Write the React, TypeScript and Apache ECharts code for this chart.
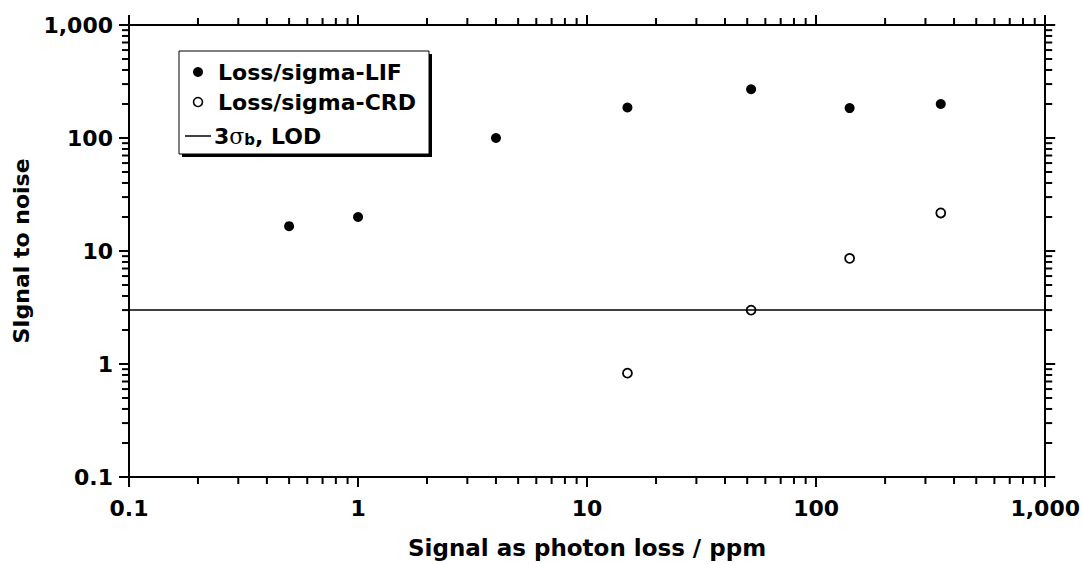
import React, { useEffect, useRef } from "react";
import * as echarts from "echarts";

// ---- data ----
const lifX = [0.5, 1, 4, 15, 52, 140, 350];
const lifY = [16.6, 20, 100, 186, 270, 184, 200];
const crdX = [15, 52, 140, 350];
const crdY = [0.83, 3.0, 8.6, 21.7];
const lodX = [0.1, 1000];
const lodY = 3;

const xAxisRange = [0.1, 1000];
const yAxisRange = [0.1, 1000];
const decades = [0.1, 1, 10, 100];
const minorMultipliers = [2, 3, 4, 5, 6, 7, 8, 9];

const legendLabels = ["Loss/sigma-LIF", "Loss/sigma-CRD"];
const xTitle = "Signal as photon loss / ppm";
const yTitle = "SIgnal to noise";

const FONT = "DejaVu Sans";

const minorValues: number[] = [];
decades.forEach((d) => minorMultipliers.forEach((m) => minorValues.push(Number((d * m).toPrecision(6)))));

const fmt = (v: number) => Number(v.toPrecision(6)).toLocaleString("en-US");

export default function App() {
  const ref = useRef<HTMLDivElement>(null);
  useEffect(() => {
    if (!ref.current) return;
    const chart = echarts.init(ref.current, undefined, { renderer: "svg" });
    const axisCommon = {
      type: "log" as const,
      logBase: 10,
      axisLine: { show: true, lineStyle: { color: "#000", width: 2 } },
      axisTick: { show: true, inside: false, length: 10, lineStyle: { color: "#000", width: 2 } },
      splitLine: { show: false },
      minorTick: { show: false },
    };
    const tickStyle = { stroke: "#000", lineWidth: 2 };
    chart.setOption({
      animation: false,
      backgroundColor: "#fff",
      grid: { left: 129, top: 25, right: 36, bottom: 86, containLabel: false },
      xAxis: [
        {
          ...axisCommon,
          position: "bottom",
          min: xAxisRange[0],
          max: xAxisRange[1],
          axisLabel: {
            color: "#000",
            fontFamily: FONT,
            fontWeight: "bold",
            fontSize: 22,
            margin: 20,
            formatter: (v: number) => fmt(v),
          },
          name: xTitle,
          nameLocation: "middle",
          nameGap: 59,
          nameTextStyle: { color: "#000", fontFamily: FONT, fontWeight: "bold", fontSize: 23 },
        },
        {
          ...axisCommon,
          position: "top",
          min: xAxisRange[0],
          max: xAxisRange[1],
          axisLabel: { show: false },
        },
      ],
      yAxis: [
        {
          ...axisCommon,
          position: "left",
          min: yAxisRange[0],
          max: yAxisRange[1],
          axisLabel: {
            color: "#000",
            fontFamily: FONT,
            fontWeight: "bold",
            fontSize: 22,
            margin: 16,
            formatter: (v: number) => fmt(v),
          },
          name: yTitle,
          nameLocation: "middle",
          nameGap: 95,
          nameTextStyle: { color: "#000", fontFamily: FONT, fontWeight: "bold", fontSize: 22 },
        },
        {
          ...axisCommon,
          position: "right",
          min: yAxisRange[0],
          max: yAxisRange[1],
          axisLabel: { show: false },
        },
      ],
      series: [
        {
          type: "line",
          name: "3σb, LOD",
          data: lodX.map((x) => [x, lodY]),
          symbol: "none",
          lineStyle: { color: "#000", width: 1.5 },
          silent: true,
        },
        {
          type: "scatter",
          name: legendLabels[0],
          data: lifX.map((x, i) => [x, lifY[i]]),
          symbol: "circle",
          symbolSize: 10,
          itemStyle: { color: "#000", opacity: 1 },
          emphasis: { disabled: true },
        },
        {
          type: "scatter",
          name: legendLabels[1],
          data: crdX.map((x, i) => [x, crdY[i]]),
          symbol: "circle",
          symbolSize: 9,
          itemStyle: { color: "#fff", borderColor: "#000", borderWidth: 1.8, opacity: 1 },
          emphasis: { disabled: true },
        },
        {
          type: "custom",
          clip: false,
          silent: true,
          data: minorValues.map((v) => [v, 1]),
          renderItem: (params: any, api: any) => {
            const v = api.value(0);
            const b = api.coord([v, yAxisRange[0]]);
            const t = api.coord([v, yAxisRange[1]]);
            return {
              type: "group",
              children: [
                { type: "line", shape: { x1: b[0], y1: b[1], x2: b[0], y2: b[1] + 7 }, style: tickStyle },
                { type: "line", shape: { x1: t[0], y1: t[1], x2: t[0], y2: t[1] - 7 }, style: tickStyle },
              ],
            };
          },
        },
        {
          type: "custom",
          clip: false,
          silent: true,
          data: minorValues.map((v) => [1, v]),
          renderItem: (params: any, api: any) => {
            const v = api.value(1);
            const l = api.coord([xAxisRange[0], v]);
            const r = api.coord([xAxisRange[1], v]);
            return {
              type: "group",
              children: [
                { type: "line", shape: { x1: l[0], y1: l[1], x2: l[0] - 7, y2: l[1] }, style: tickStyle },
                { type: "line", shape: { x1: r[0], y1: r[1], x2: r[0] + 7, y2: r[1] }, style: tickStyle },
              ],
            };
          },
        },
      ],
      graphic: [
        { type: "rect", shape: { x: 182, y: 54, width: 250, height: 103 }, style: { fill: "#000" }, z: 100 },
        { type: "rect", shape: { x: 179, y: 51, width: 250, height: 103 }, style: { fill: "#fff", stroke: "#000", lineWidth: 1 }, z: 101 },
        { type: "circle", shape: { cx: 198, cy: 72, r: 5 }, style: { fill: "#000" }, z: 102 },
        {
          type: "text", x: 218, y: 72, z: 102,
          style: { text: legendLabels[0], fill: "#000", font: `bold 22px '${FONT}'`, verticalAlign: "middle" },
        },
        { type: "circle", shape: { cx: 198, cy: 102, r: 4.5 }, style: { fill: "#fff", stroke: "#000", lineWidth: 1.6 }, z: 102 },
        {
          type: "text", x: 218, y: 102, z: 102,
          style: { text: legendLabels[1], fill: "#000", font: `bold 22px '${FONT}'`, verticalAlign: "middle" },
        },
        { type: "line", shape: { x1: 185, y1: 136, x2: 211, y2: 136 }, style: { stroke: "#000", lineWidth: 1.5 }, z: 102 },
        {
          type: "text", x: 214, y: 136, z: 102,
          style: {
            text: "{a|3}{s|σ}{b|b}{a|, LOD}",
            fill: "#000",
            verticalAlign: "middle",
            rich: {
              a: { fontFamily: FONT, fontWeight: "bold", fontSize: 22, lineHeight: 26, verticalAlign: "middle", fill: "#000" },
              s: { fontFamily: "DejaVu Serif", fontWeight: "normal", fontSize: 22, lineHeight: 26, verticalAlign: "middle", fill: "#000" },
              b: { fontFamily: FONT, fontWeight: "bold", fontSize: 15, lineHeight: 26, verticalAlign: "bottom", padding: [0, 0, 2, 0], fill: "#000" },
            },
          },
        },
      ],
    });
    return () => chart.dispose();
  }, []);
  return <div ref={ref} style={{ position: "fixed", left: 0, top: 0, width: 1083, height: 564 }} />;
}
